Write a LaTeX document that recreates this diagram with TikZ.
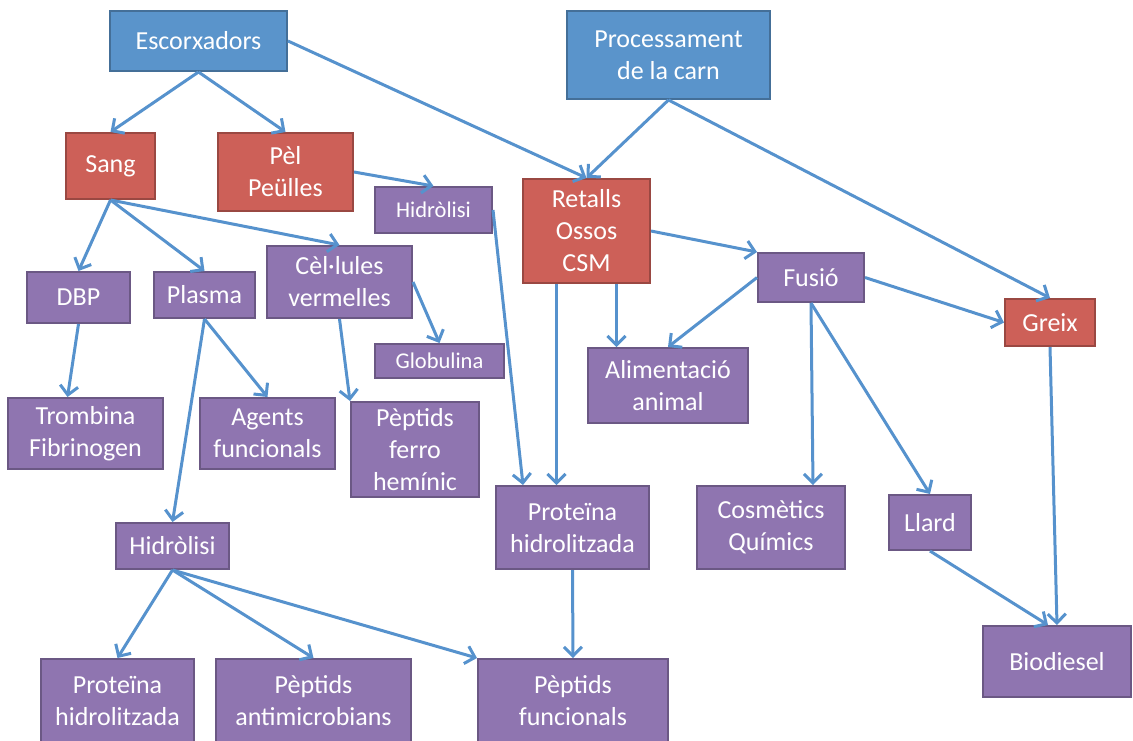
\documentclass[tikz,border=0pt]{standalone}
\usepackage{fontspec}
\setmainfont{Carlito}
\usetikzlibrary{arrows.meta}

\definecolor{blau}{HTML}{5A94CB}
\definecolor{vermell}{HTML}{CD6058}
\definecolor{lila}{HTML}{8F75B0}
\definecolor{blaufl}{HTML}{5692CD}

\begin{document}
\begin{tikzpicture}[
    x=1pt, y=-1pt,
    every node/.style={rectangle, align=center, inner sep=0pt, line width=2pt,
        font=\fontsize{26}{32}\selectfont}
]

\tikzset{caixa/.style={fill=#1, draw=#1!75!black, text=white}}
\tikzset{mida/.style 2 args={minimum width=#1, minimum height=#2}}
\tikzset{fl/.style={draw=blaufl, line width=3pt, -{Straight Barb[length=9pt, width=18pt]}}}

\useasboundingbox (0,0) rectangle (1133,740);

% ================= Origen =================

\node[caixa=blau, mida={177pt}{60pt}] (esc)  at (198.5,41) {Escorxadors};
\node[caixa=blau, mida={203pt}{88pt}] (proc) at (668.5,55) {Processament\\de la carn};

% ================= Subproductes =================

\node[caixa=vermell, mida={89pt}{66pt}]   (sang)  at (110.5,166)  {Sang};
\node[caixa=vermell, mida={135pt}{78pt}]  (pel)   at (285.5,172)  {Pèl\\Peülles};
\node[caixa=vermell, mida={127pt}{104pt}] (ret)   at (586.5,231)  {Retalls\\Ossos\\CSM};
\node[caixa=vermell, mida={90pt}{47pt}]   (greix) at (1050,322.5) {Greix};

% ================= Sang =================

\node[caixa=lila, mida={103pt}{51pt}] (dbp)    at (78.5,297.5) {DBP};
\node[caixa=lila, mida={101pt}{46pt}] (plasma) at (204.5,295)  {Plasma};
\node[caixa=lila, mida={145pt}{72pt}] (cel)    at (339.5,282)  {Cèl·lules\\vermelles};
\node[caixa=lila, mida={129pt}{34pt}, font=\fontsize{22.5}{27}\selectfont]
    (glob) at (439.5,361) {Globulina};

\node[caixa=lila, mida={155pt}{71pt}] (tromb)  at (85.5,433.5)  {Trombina\\Fibrinogen};
\node[caixa=lila, mida={135pt}{71pt}] (agents) at (267.5,433.5) {Agents\\funcionals};
\node[caixa=lila, mida={128pt}{95pt}] (ferro)  at (415,449.5)   {Pèptids\\ferro\\hemínic};

\node[caixa=lila, mida={113pt}{46pt}] (hidB)  at (172.5,546) {Hidròlisi};
\node[caixa=lila, mida={153pt}{84pt}] (protB) at (117.5,701) {Proteïna\\hidrolitzada};
\node[caixa=lila, mida={195pt}{84pt}] (pepA)  at (313.5,701) {Pèptids\\antimicrobians};
\node[caixa=lila, mida={190pt}{84pt}] (pepF)  at (573,701)   {Pèptids\\funcionals};

% ================= Pèl, retalls i greix =================

\node[caixa=lila, mida={117pt}{46pt}, font=\fontsize{22.5}{27}\selectfont]
    (hidA) at (433.5,210) {Hidròlisi};
\node[caixa=lila, mida={153pt}{83pt}] (protA) at (572.5,527.5) {Proteïna\\hidrolitzada};
\node[caixa=lila, mida={106pt}{49pt}] (fusio) at (811,277.5)   {Fusió};
\node[caixa=lila, mida={160pt}{75pt}] (alim)  at (668,385.5)   {Alimentació\\animal};
\node[caixa=lila, mida={148pt}{83pt}] (cosm)  at (771,527.5)   {Cosmètics\\Químics};
\node[caixa=lila, mida={82pt}{55pt}]  (llard) at (930,522.5)   {Llard};
\node[caixa=lila, mida={148pt}{71pt}] (bio)   at (1057,661.5)  {Biodiesel};

% ================= Fletxes =================

\draw[fl] (esc.south) -- (sang.north);
\draw[fl] (esc.south) -- (pel.north);
\draw[fl] (esc.east) -- (ret.north);
\draw[fl] (proc.south) -- (ret.north);
\draw[fl] (proc.south) -- (greix.north);

\draw[fl] (pel.east) -- (hidA.north);
\draw[fl] (hidA.east) -- ([xshift=-49.5pt]protA.north);

\draw[fl] (sang.south) -- (dbp.north);
\draw[fl] (sang.south) -- (plasma.north);
\draw[fl] (sang.south) -- (cel.north);
\draw[fl] (dbp.south) -- ([xshift=-18pt]tromb.north);
\draw[fl] (plasma.south) -- (agents.north);
\draw[fl] (plasma.south) -- (hidB.north);
\draw[fl] (cel.east) -- (glob.north);
\draw[fl] (cel.south) -- (ferro.north west);

\draw[fl] (hidB.south) -- (protB.north);
\draw[fl] (hidB.south) -- (pepA.north);
\draw[fl] (hidB.south) -- (pepF.north west);
\draw[fl] (protA.south) -- (pepF.north);

\draw[fl] ([xshift=-30pt]ret.south) -- ([xshift=-16pt]protA.north);
\draw[fl] ([xshift=30pt]ret.south) -- ([xshift=-51.5pt]alim.north);
\draw[fl] (ret.east) -- (fusio.north west);
\draw[fl] (fusio.west) -- (alim.north);
\draw[fl] (fusio.east) -- (greix.west);
\draw[fl] (fusio.south) -- ([xshift=42pt]cosm.north);
\draw[fl] (fusio.south) -- (llard.north);
\draw[fl] (greix.south) -- (bio.north);
\draw[fl] (llard.south) -- ([xshift=-9pt]bio.north);

\end{tikzpicture}
\end{document}
